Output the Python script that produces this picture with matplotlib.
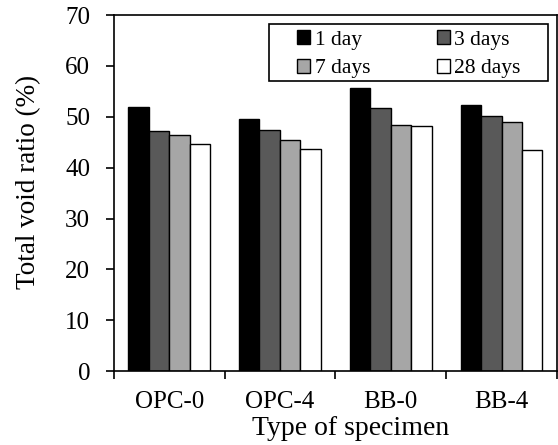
import matplotlib.pyplot as plt
import numpy as np
from matplotlib.patches import Rectangle
from matplotlib.ticker import FixedLocator

plt.rcParams["font.family"] = ["Liberation Serif", "DejaVu Serif"]

specimens = ["OPC-0", "OPC-4", "BB-0", "BB-4"]
ages = ["1 day", "3 days", "7 days", "28 days"]
void_1d = [52.0, 49.5, 55.7, 52.3]
void_3d = [47.2, 47.4, 51.8, 50.1]
void_7d = [46.5, 45.5, 48.4, 48.9]
void_28d = [44.7, 43.6, 48.2, 43.4]

series = [void_1d, void_3d, void_7d, void_28d]
colors = ["#000000", "#595959", "#a6a6a6", "#ffffff"]

fig = plt.figure(figsize=(5.58, 4.45), dpi=100)
ax = fig.add_axes([0.204, 0.166, 0.794, 0.800])

x = np.arange(len(specimens))
w = 0.185
bars = []
for i, (vals, c, lab) in enumerate(zip(series, colors, ages)):
    b = ax.bar(x + (i - 1.5) * w, vals, w, color=c, edgecolor="black",
               linewidth=1.0, label=lab)
    bars.append(b)

ax.set_xlim(-0.5, len(specimens) - 0.5)
ax.set_ylim(0, 70)
ax.set_yticks(range(0, 71, 10))
ax.set_xticks(x)
ax.set_xticklabels(specimens)
ax.xaxis.set_minor_locator(FixedLocator(np.arange(-0.5, len(specimens), 1.0)))
ax.tick_params(axis="x", which="major", length=0, pad=14, labelsize=18)
ax.tick_params(axis="x", which="minor", length=6, width=1.2, direction="out")
ax.tick_params(axis="y", length=6, width=1.2, direction="out", pad=11, labelsize=18)
for s in ax.spines.values():
    s.set_linewidth(1.2)

ax.set_xlabel("Type of specimen", fontsize=20)
ax.xaxis.set_label_coords(0.535, -0.127)
ax.set_ylabel("Total void ratio (%)", fontsize=19.5)
ax.yaxis.set_label_coords(-0.163, 0.531)

# legend filled row-wise like the original: 1 day, 3 days / 7 days, 28 days
order = [0, 2, 1, 3]
leg = ax.legend([bars[k] for k in order], [ages[k] for k in order], ncol=2,
                loc="center", bbox_to_anchor=(0.666, 0.890), frameon=False,
                fontsize=15.5, handlelength=0.62, handleheight=0.62,
                handletextpad=0.2, columnspacing=3.1, labelspacing=0.4,
                borderpad=0.2)
ax.add_patch(Rectangle((0.350, 0.815), 0.630, 0.160, transform=ax.transAxes,
                       facecolor="white", edgecolor="black", linewidth=1.2,
                       zorder=4))
leg.set_zorder(5)

fig.savefig("out.png", dpi=100)
